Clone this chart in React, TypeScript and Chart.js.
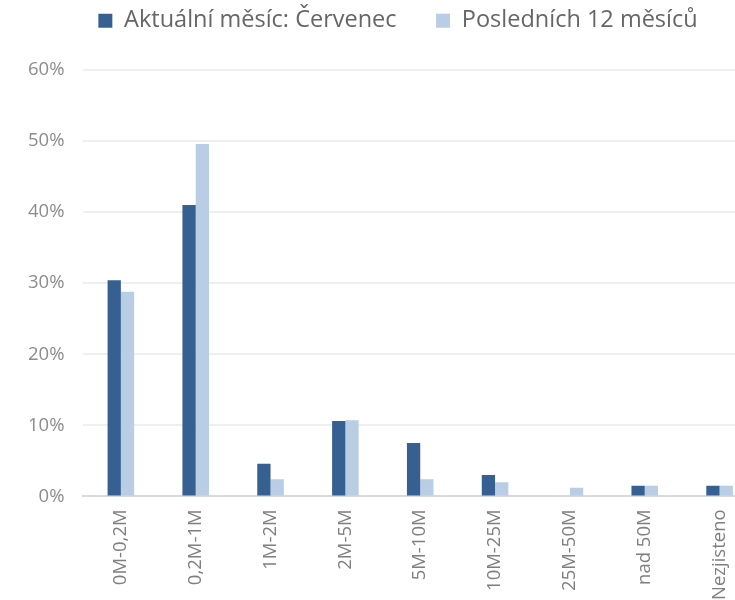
import React, { useEffect, useRef } from "react";
import { Chart, registerables } from "chart.js";

Chart.register(...registerables);

const categories = ["0M-0,2M", "0,2M-1M", "1M-2M", "2M-5M", "5M-10M", "10M-25M", "25M-50M", "nad 50M", "Nezjisteno"];
const currentMonth = [0.304, 0.41, 0.046, 0.106, 0.075, 0.03, 0, 0.015, 0.015];
const last12Months = [0.288, 0.496, 0.024, 0.107, 0.024, 0.02, 0.012, 0.015, 0.015];
const seriesNames = ["Aktuální měsíc: Červenec", "Posledních 12 měsíců"];
const yTicks = [0, 0.1, 0.2, 0.3, 0.4, 0.5, 0.6];

const FONT = "'Open Sans', sans-serif";
const LEGEND_GAP = "     ";

const legendSpacer = {
  id: "legendSpacer",
  beforeInit(chart: any) {
    const lg = chart.legend;
    if (!lg) return;
    const orig = lg.fit;
    lg.fit = function () {
      orig.call(this);
      this.height += 27.5;
    };
  },
  afterLayout(chart: any) {
    const lg = chart.legend;
    if (!lg) return;
    lg.left += 15;
    lg.right += 15;
  },
};

export default function App() {
  const ref = useRef<HTMLCanvasElement | null>(null);
  useEffect(() => {
    if (!ref.current) return;
    const chart = new Chart(ref.current, {
      type: "bar",
      data: {
        labels: categories,
        datasets: [
          { label: seriesNames[0], data: currentMonth, backgroundColor: "#376092", categoryPercentage: 0.355, barPercentage: 1 },
          { label: seriesNames[1], data: last12Months, backgroundColor: "#b9cde5", categoryPercentage: 0.355, barPercentage: 1 },
        ],
      },
      plugins: [legendSpacer],
      options: {
        responsive: false,
        animation: false,
        layout: { padding: { left: 9, right: 41, top: 0, bottom: 3 } },
        plugins: {
          tooltip: { enabled: false },
          legend: {
            position: "top",
            labels: {
              font: { family: FONT, size: 23.5 },
              color: "#666666",
              boxWidth: 14,
              boxHeight: 14,
              padding: 9,
              generateLabels: (c) => {
                const items = Chart.defaults.plugins.legend.labels.generateLabels(c);
                items.forEach((it, i) => {
                  it.lineWidth = 0;
                  if (i === 0) it.text = it.text + LEGEND_GAP;
                });
                return items;
              },
            },
          },
        },
        scales: {
          x: {
            grid: { display: false, drawTicks: false },
            border: { color: "#d9d9d9", width: 2 },
            ticks: { font: { family: FONT, size: 18.5 }, color: "#7f7f7f", minRotation: 90, maxRotation: 90, padding: 13 },
          },
          y: {
            min: 0,
            max: 0.6,
            afterBuildTicks: (s) => { s.ticks = yTicks.map((v) => ({ value: v })); },
            grid: { color: "#efefef", lineWidth: 2, drawTicks: false },
            border: { display: false },
            ticks: {
              font: { family: FONT, size: 18.5 },
              color: "#8c8c8c",
              padding: 19,
              callback: (v) => Math.round(Number(v) * 100) + "%",
            },
          },
        },
      },
    });
    return () => chart.destroy();
  }, []);
  return (
    <div style={{ position: "absolute", left: 0, top: 0, width: 735, height: 600, overflow: "hidden", background: "#fff" }}>
      <canvas ref={ref} width={798} height={616} />
    </div>
  );
}
